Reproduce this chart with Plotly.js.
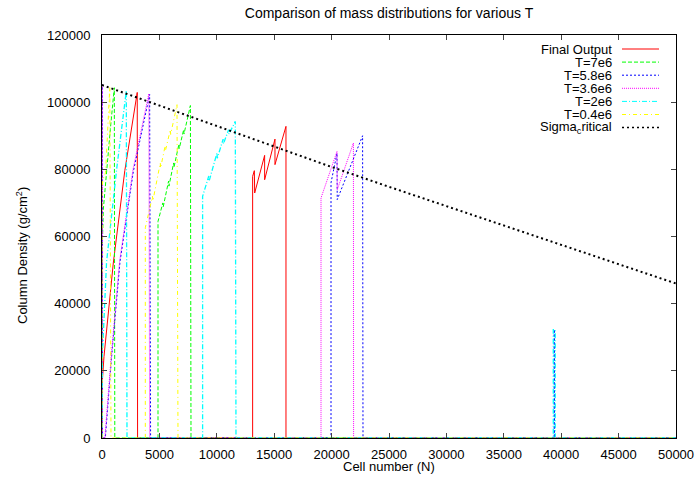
<!DOCTYPE html>
<html><head><meta charset="utf-8">
<script src="https://cdn.plot.ly/plotly-3.0.1.min.js"></script>
<style>html,body{margin:0;padding:0;background:#fff}</style>
</head><body><div id="chart" style="width:698px;height:480px"></div>
<script>
// ---- data ----
const seriesNames = ['Final Output', 'T=7e6', 'T=5.8e6', 'T=3.6e6', 'T=2e6', 'T=0.4e6', 'Sigma<sub>c</sub>ritical'];

const finalX = [0, 10, 174, 984, 1986, 3070, 3100, 13121, 13121, 13270, 13300, 14167, 14167, 15067, 15067, 16025, 16025, 50000];
const finalY = [0, 16000, 24300, 52100, 79600, 102900, 0, 0, 77900, 79600, 72950, 84160, 76900, 89000, 81400, 92800, 0, 0];

const t7X = [0, 0, 113, 375, 723, 1071, 1115, 4878, 4878, 5300, 5330, 5800, 5830, 6240, 6270, 6700, 6730, 7112, 7140, 7700, 7753, 50000];
const t7Y = [0, 53700, 68000, 79300, 91800, 104300, 0, 0, 64500, 70000, 68800, 76500, 75000, 81900, 80600, 87500, 86200, 91800, 90500, 99000, 0, 0];

const t58X = [0, 0, 30, 290, 836, 1568, 2726, 4150, 4233, 19948, 19948, 20470, 20490, 22700, 22735, 39395, 39395, 39405, 50000];
const t58Y = [0, 105300, 0, 0, 24200, 52500, 79300, 102300, 0, 0, 76000, 84800, 71000, 90000, 0, 0, 32300, 0, 0];

const t36X = [0, 0, 30, 250, 800, 1530, 2700, 4080, 4150, 19077, 19077, 20470, 20490, 21900, 21916, 50000];
const t36Y = [0, 105300, 0, 0, 24200, 52500, 79900, 102500, 0, 0, 71460, 85340, 73900, 87840, 0, 0];

const t2X = [0, 0, 26, 400, 1272, 2117, 2178, 8763, 8763, 9300, 9330, 10017, 10045, 10550, 10580, 11028, 11055, 11612, 11672, 39310, 39310, 39480, 39480, 50000];
const t2Y = [0, 20000, 24200, 52500, 79900, 103400, 0, 0, 71940, 78000, 76500, 84860, 83300, 89000, 87600, 91800, 90500, 94270, 0, 0, 32300, 32300, 0, 0];

const t04X = [0, 0, 70, 314, 680, 784, 3772, 3772, 4400, 4430, 5078, 5105, 5500, 5530, 5950, 5980, 6533, 6620, 50000];
const t04Y = [0, 74000, 76900, 79000, 104500, 0, 0, 62600, 72000, 70600, 81900, 80400, 87000, 85600, 91800, 90400, 99250, 0, 0];

const sigmaX = [0, 5000, 10000, 15000, 20000, 25000, 30000, 35000, 40000, 45000, 50000];
const sigmaY = [105100, 98950, 92800, 86700, 80700, 74800, 69000, 63300, 57500, 51800, 46000];

const xTickVals = [0, 5000, 10000, 15000, 20000, 25000, 30000, 35000, 40000, 45000, 50000];
const yTickVals = [0, 20000, 40000, 60000, 80000, 100000, 120000];

// ---- styles ----
const colors = ['#ff0000', '#00ff00', '#0000ff', '#ff00ff', '#00ffff', '#ffff00', '#000000'];
const dashes = ['solid', '4px,2px', '2px,2px', '1px,1px', '5px,2px,1px,2px', '4px,3px,1px,3px', '2px,3px'];
const widths = [1, 1, 1, 1, 1.3, 1, 2];
const keyWidths = [1, 1, 1, 1, 1, 1, 1.5];
const xs = [finalX, t7X, t58X, t36X, t2X, t04X, sigmaX];
const ys = [finalY, t7Y, t58Y, t36Y, t2Y, t04Y, sigmaY];

const traces = xs.map((x, i) => ({
  x: x, y: ys[i], type: 'scatter', mode: 'lines', name: seriesNames[i],
  line: {color: colors[i], width: widths[i], dash: dashes[i]}, showlegend: false, hoverinfo: 'skip'
}));

// plot-area geometry
const L = 102, R = 676, T = 35, B = 438, W = 698, H = 480;
const pw = R - L, ph = B - T;
const px2x = p => (p - L) / pw;
const py2y = p => (B - p) / ph;

const annotations = [];
const shapes = [];
seriesNames.forEach((n, i) => {
  const py = 49 + i * 13.1;
  annotations.push({xref: 'paper', yref: 'paper', x: px2x(613), y: py2y(py), xanchor: 'right', yanchor: 'middle',
    text: n, showarrow: false, borderpad: 0, font: {size: 13, color: '#000'}});
  shapes.push({type: 'line', xref: 'paper', yref: 'paper', x0: px2x(622), x1: px2x(659), y0: py2y(py), y1: py2y(py),
    line: {color: colors[i], width: keyWidths[i], dash: dashes[i]}});
});
annotations.push({xref: 'paper', yref: 'paper', x: px2x(22), y: py2y(256), xanchor: 'center', yanchor: 'middle',
  text: 'Column Density (g/cm<sup>2</sup>)', textangle: -90, showarrow: false, font: {size: 13, color: '#000'}});
annotations.push({xref: 'paper', yref: 'paper', x: px2x(389), y: py2y(467), xanchor: 'center', yanchor: 'middle',
  text: 'Cell number (N)', showarrow: false, borderpad: 0, font: {size: 13, color: '#000'}});

const axisCommon = {showgrid: false, zeroline: false, showline: true, linecolor: '#000', linewidth: 1,
  mirror: 'ticks', ticks: 'inside', ticklen: 5, tickcolor: '#444', tickwidth: 1,
  tickfont: {size: 13, color: '#000'}};

const layout = {
  width: W, height: H,
  margin: {l: L, r: W - R, t: T, b: H - B, pad: 0},
  paper_bgcolor: '#fff', plot_bgcolor: '#fff',
  font: {family: 'Liberation Sans, Arial, sans-serif', size: 13, color: '#000'},
  title: {text: 'Comparison of mass distributions for various T', font: {size: 14, color: '#000'},
    x: (L + R) / 2 / W, xanchor: 'center', y: 1 - 13 / H, yanchor: 'middle'},
  xaxis: Object.assign({}, axisCommon, {range: [0, 50000], tickvals: xTickVals, ticktext: xTickVals.map(String),
    ticklabelstandoff: 4}),
  yaxis: Object.assign({}, axisCommon, {range: [0, 120000], tickvals: yTickVals, ticktext: yTickVals.map(String),
    ticklabelstandoff: 8}),
  annotations: annotations,
  shapes: shapes,
  showlegend: false
};

Plotly.newPlot('chart', traces, layout, {displayModeBar: false, staticPlot: true});
</script></body></html>
